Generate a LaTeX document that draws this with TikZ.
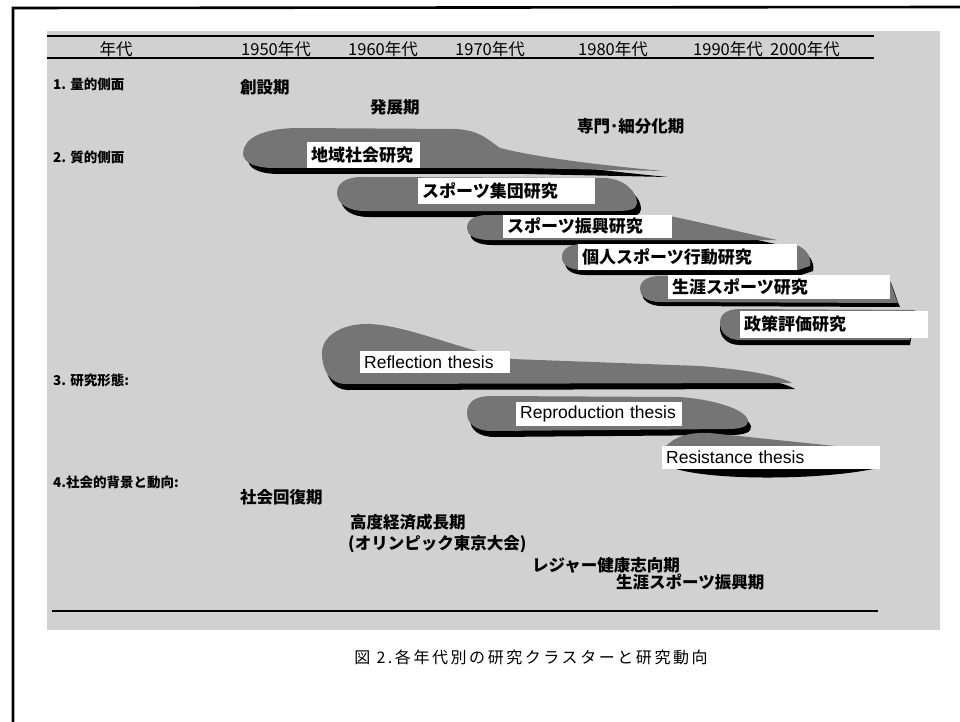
\documentclass[tikz,border=0pt]{standalone}
\usepackage{fontspec}
\setmainfont{Noto Sans CJK JP}
\newfontfamily\latinfont{Liberation Sans}
\newfontfamily\capfont{Noto Sans CJK JP}[LetterSpace=16]
\definecolor{bgc}{gray}{0.82}
\definecolor{blobc}{gray}{0.46}
\begin{document}
\begin{tikzpicture}[x=1pt,y=-1pt,
  hdr/.style={font=\fontsize{16.5}{18}\selectfont, inner sep=0},
  side/.style={font=\bfseries\fontsize{13.5}{16}\selectfont, anchor=west, inner sep=0},
  stage/.style={font=\bfseries\fontsize{16.5}{18}\selectfont, anchor=west, inner sep=0},
  lbl/.style={fill=white, anchor=west, inner xsep=4, inner ysep=0, align=left, font=\bfseries\fontsize{17}{19}\selectfont},
  lbllat/.style={lbl, font=\latinfont\fontsize{17.5}{19}\selectfont},
  blobfill/.style={fill=blobc},
  shadowfill/.style={fill=black},
  rule/.style={line width=1.6pt}
]
\path[use as bounding box] (0,0) rectangle (960,722);
\fill[white] (0,0) rectangle (960,722);
% stippled background
\fill[bgc] (47,31) rectangle (940,630);
% frame
\coordinate (fbl) at (13,722);
\coordinate (ftl) at (13,8);
\coordinate (ftr) at (960,7);
\draw[line width=2.6pt] (fbl) -- (ftl) -- (ftr);
% header rules
\coordinate (h1l) at (47,36);  \coordinate (h1r) at (874,36);
\coordinate (h2l) at (47,58);  \coordinate (h2r) at (874,58);
\coordinate (bl) at (52,611);  \coordinate (br) at (878,611);
\draw[rule] (h1l) -- (h1r);
\draw[rule] (h2l) -- (h2r);
\draw[rule] (bl) -- (br);
% header texts
\node[hdr] (y0) at (116,49) {年代};
\node[hdr] (y50) at (276,49) {1950年代};
\node[hdr] (y60) at (383,49) {1960年代};
\node[hdr] (y70) at (490,49) {1970年代};
\node[hdr] (y80) at (613,49) {1980年代};
\node[hdr,anchor=west] (y90) at (693,49) {1990年代};
\node[hdr,anchor=west] (y00) at (770,49) {2000年代};
% side labels
\node[side] (s1) at (53,84) {1. 量的側面};
\node[side] (s2) at (53,157) {2. 質的側面};
\node[side] (s3) at (53,380) {3. 研究形態:};
\node[side] (s4) at (53,482) {4.社会的背景と動向:};
% stages
\node[stage] (st1) at (240,87) {創設期};
\node[stage] (st2) at (370,107) {発展期};
\node[stage] (st3) at (577,126) {専門･細分化期};
% blob 1
\foreach \st/\dx/\dy in {shadowfill/5/6, blobfill/0/0}{
 \path[\st, shift={(\dx,\dy)}] (243,153) .. controls (244,138) and (262,129) .. (295,128)
  -- (455,129) .. controls (480,130) and (488,140) .. (500,148)
  .. controls (540,158) and (600,165) .. (663,171)
  -- (520,168) -- (275,168) .. controls (255,168) and (243,163) .. (243,153) -- cycle;}
\node[lbl, text width=105, minimum height=26] (l1) at (307,155) {地域社会研究};
% blob 2
\foreach \st/\dx/\dy in {shadowfill/4/6, blobfill/0/0}{
 \path[\st, shift={(\dx,\dy)}] (337,193) .. controls (337,183) and (346,177) .. (362,177)
  -- (605,178) .. controls (625,179) and (637,192) .. (637,203)
  .. controls (637,209) and (630,211) .. (618,211)
  -- (365,211) .. controls (347,211) and (337,203) .. (337,193) -- cycle;}
\node[lbl, text width=169, minimum height=26] (l2) at (418,191) {スポーツ集団研究};
% blob 3
\foreach \st/\dx/\dy in {shadowfill/3/5, blobfill/0/0}{
 \path[\st, shift={(\dx,\dy)}] (467,228) .. controls (467,220) and (474,215) .. (488,215)
  -- (665,215) .. controls (700,222) and (740,232) .. (777,240)
  -- (700,240) -- (490,240) .. controls (474,240) and (467,235) .. (467,228) -- cycle;}
\node[lbl, text width=161, minimum height=23] (l3) at (503,226) {スポーツ振興研究};
% blob 4
\foreach \st/\dx/\dy in {shadowfill/3/5, blobfill/0/0}{
 \path[\st, shift={(\dx,\dy)}] (562,257) .. controls (562,249) and (569,244) .. (583,244)
  -- (795,245) .. controls (806,247) and (812,258) .. (810,266)
  -- (798,270) -- (583,270) .. controls (569,270) and (562,265) .. (562,257) -- cycle;}
\node[lbl, text width=211, minimum height=26] (l4) at (578,257) {個人スポーツ行動研究};
% blob 5
\foreach \st/\dx/\dy in {shadowfill/2/4, blobfill/0/0}{
 \path[\st, shift={(\dx,\dy)}] (640,289) .. controls (640,281) and (647,276) .. (660,276)
  -- (888,277) .. controls (892,285) and (895,297) .. (898,303)
  -- (660,302) .. controls (647,302) and (640,296) .. (640,289) -- cycle;}
\node[lbl, text width=214, minimum height=24] (l5) at (668,287) {生涯スポーツ研究};
% blob 6
\foreach \st/\dx/\dy in {shadowfill/0/5, blobfill/0/0}{
 \path[\st, shift={(\dx,\dy)}] (720,323) .. controls (720,314) and (727,309) .. (740,309)
  -- (915,310) -- (910,340) -- (740,340) .. controls (727,340) and (720,332) .. (720,323) -- cycle;}
\node[lbl, text width=180, minimum height=27] (l6) at (740,324) {政策評価研究};
% reflection
\foreach \st/\dx/\dy in {shadowfill/3/6, blobfill/0/0}{
 \path[\st, shift={(\dx,\dy)}] (322,353) .. controls (322,336) and (342,323) .. (370,324)
  .. controls (410,326) and (460,350) .. (512,359)
  -- (700,366) .. controls (750,370) and (780,376) .. (792,383)
  -- (345,384) .. controls (330,384) and (322,370) .. (322,353) -- cycle;}
\node[lbllat, text width=142, minimum height=22] (r1) at (360,362) {Reflection thesis};
% reproduction
\foreach \st/\dx/\dy in {shadowfill/3/6, blobfill/0/0}{
 \path[\st, shift={(\dx,\dy)}] (467,413) .. controls (467,402) and (475,396) .. (492,396)
  -- (680,397) .. controls (718,400) and (745,410) .. (748,420)
  .. controls (749,426) and (742,429) .. (728,429)
  -- (492,431) .. controls (476,431) and (467,424) .. (467,413) -- cycle;}
\node[lbllat, text width=158, minimum height=24] (r2) at (516,414) {Reproduction thesis};
% resistance
\path[blobfill] (666,446) .. controls (676,436) and (690,432) .. (710,433) -- (835,446) -- cycle;
\path[shadowfill] (668,466) .. controls (700,481) and (820,481) .. (878,468) -- cycle;
\node[lbllat, text width=210, minimum height=23] (r3) at (662,457) {Resistance thesis};
% social background
\node[stage] (b1) at (240,497) {社会回復期};
\node[stage] (b2) at (350,522) {高度経済成長期};
\node[stage] (b3) at (348,544) {(オリンピック東京大会)};
\node[stage] (b4) at (532,565) {レジャー健康志向期};
\node[stage] (b5) at (616,582) {生涯スポーツ振興期};
% caption
\node[inner sep=0, font=\capfont\fontsize{16}{18}\selectfont] (cap) at (531,657) {図 2.各年代別の研究クラスターと研究動向};
\end{tikzpicture}
\end{document}
